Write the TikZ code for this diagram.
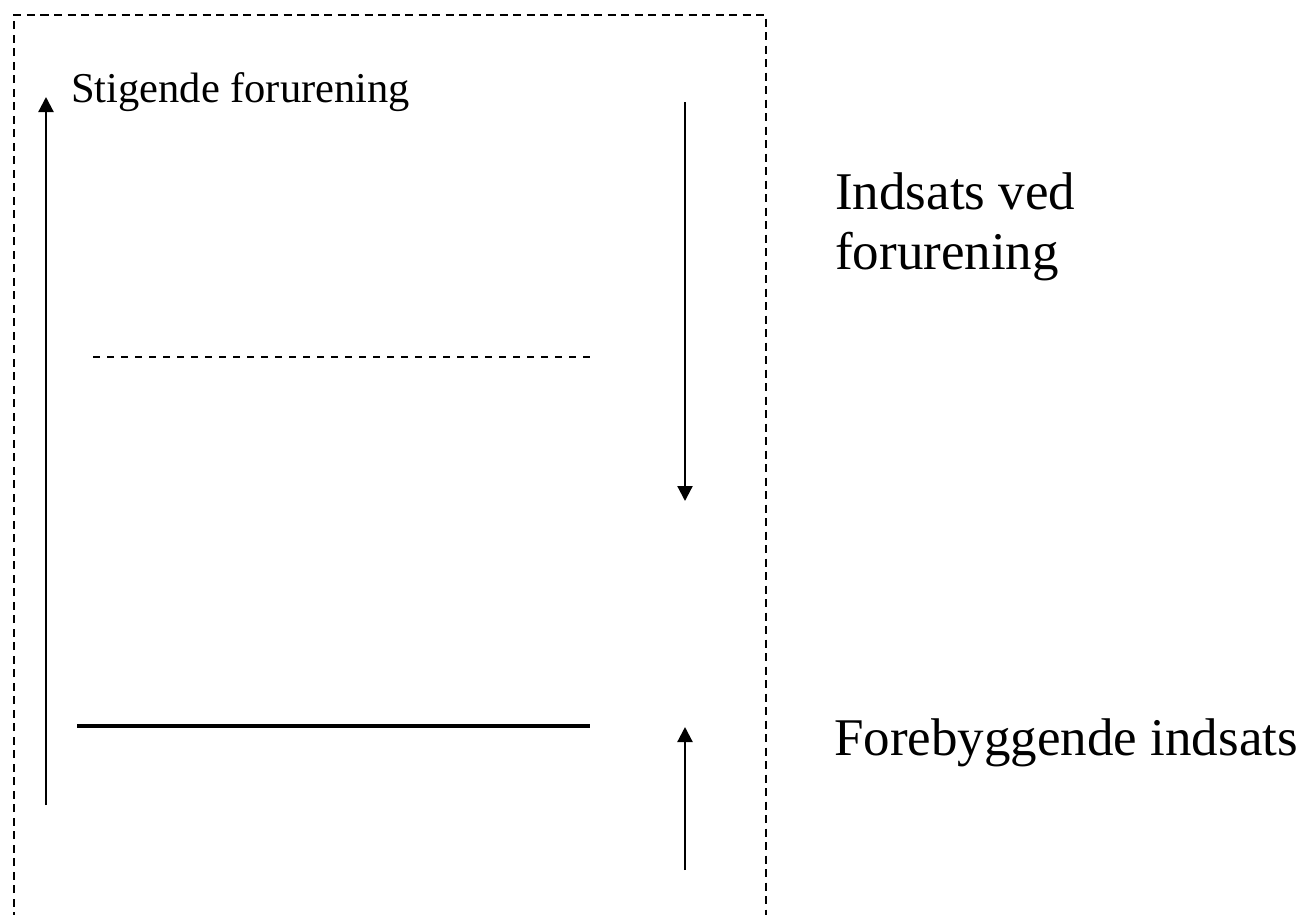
\documentclass[tikz,border=0pt]{standalone}
\usepackage{fontspec}
\setmainfont{Liberation Serif}
\usetikzlibrary{arrows.meta}
\begin{document}
\begin{tikzpicture}[x=1pt,y=-1pt,
  frame/.style={line width=2pt,dash pattern=on 8pt off 5.5pt},
  arr/.style={line width=2.2pt,-{Triangle[length=15pt,width=15pt]}},
  smalltxt/.style={anchor=base west,inner sep=0pt,font=\fontsize{42.5}{48}\selectfont},
  bigtxt/.style={anchor=base west,inner sep=0pt,align=left,font=\fontsize{53}{60}\selectfont}]
\useasboundingbox (0,0) rectangle (1309,914);
% frame
\coordinate (fbl) at (14,920);
\coordinate (ftl) at (14,15);
\coordinate (ftr) at (766,15);
\coordinate (fbr) at (766,920);
\draw[frame] (fbl) -- (ftl) -- (ftr) -- (fbr);
% left rising arrow
\coordinate (la0) at (46,805);
\coordinate (la1) at (46,97);
\draw[arr] (la0) -- (la1);
% right arrows
\coordinate (ra0) at (685,102);
\coordinate (ra1) at (685,501);
\draw[arr] (ra0) -- (ra1);
\coordinate (ub0) at (685,870);
\coordinate (ub1) at (685,727);
\draw[arr] (ub0) -- (ub1);
% horizontal lines
\coordinate (d0) at (93,357);
\coordinate (d1) at (590,357);
\draw[line width=1.6pt,dash pattern=on 7pt off 7pt] (d0) -- (d1);
\coordinate (s0) at (77,726);
\coordinate (s1) at (590,726);
\draw[line width=3.4pt] (s0) -- (s1);
% texts
\node[smalltxt] (stig) at (71,102) {Stigende forurening};
\node[bigtxt] (ind) at (835,269) {Indsats ved\\forurening};
\node[bigtxt] (fore) at (834,755) {Forebyggende indsats};
\end{tikzpicture}
\end{document}
